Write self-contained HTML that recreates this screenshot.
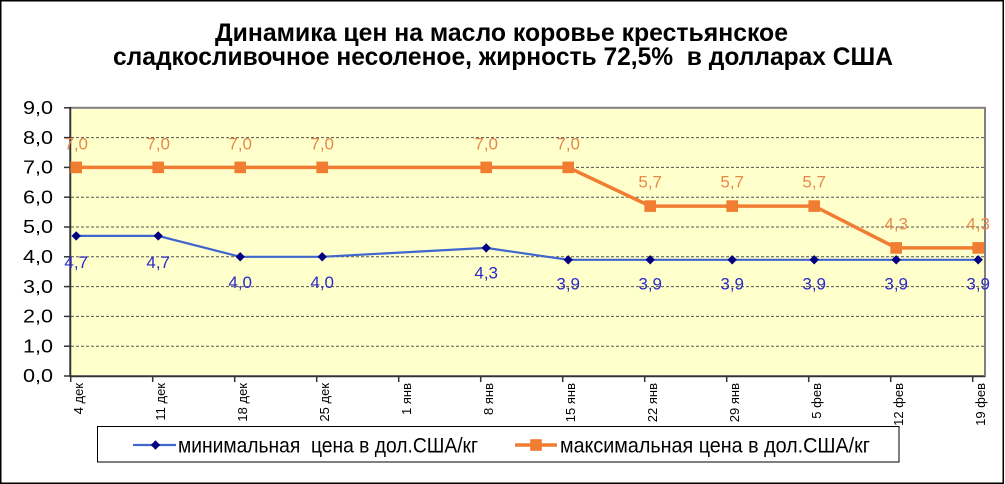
<!DOCTYPE html>
<html><head><meta charset="utf-8"><style>
html,body{margin:0;padding:0;background:#fff;}
svg{display:block;}
text{font-family:"Liberation Sans",Arial,"DejaVu Sans",sans-serif;}
</style></head><body>
<svg width="1005" height="484" viewBox="0 0 1005 484" xmlns="http://www.w3.org/2000/svg">
<rect x="0" y="0" width="1005" height="484" fill="#fff"/>
<rect x="0.75" y="0.75" width="1002.5" height="482.5" fill="none" stroke="#000" stroke-width="1.5"/>
<!-- title -->
<text x="501.5" y="41" text-anchor="middle" font-size="25" font-weight="bold" fill="#000" textLength="573" lengthAdjust="spacingAndGlyphs">Динамика цен на масло коровье крестьянское</text>
<text x="503" y="65" text-anchor="middle" font-size="25" font-weight="bold" fill="#000" textLength="780" lengthAdjust="spacingAndGlyphs" xml:space="preserve">сладкосливочное несоленое, жирность 72,5%  в долларах США</text>
<!-- plot area -->
<rect x="70" y="107.8" width="915" height="268.2" fill="#FFFFCC" stroke="#808080" stroke-width="2"/>
<g stroke="#555" stroke-width="1" stroke-dasharray="3,2">
<line x1="71" y1="137.6" x2="984" y2="137.6"/>
<line x1="71" y1="167.4" x2="984" y2="167.4"/>
<line x1="71" y1="197.2" x2="984" y2="197.2"/>
<line x1="71" y1="227" x2="984" y2="227"/>
<line x1="71" y1="256.8" x2="984" y2="256.8"/>
<line x1="71" y1="286.6" x2="984" y2="286.6"/>
<line x1="71" y1="316.4" x2="984" y2="316.4"/>
<line x1="71" y1="346.2" x2="984" y2="346.2"/>
</g>
<g stroke="#333" stroke-width="1.5">
<line x1="70.5" y1="107" x2="70.5" y2="377"/>
<line x1="70" y1="376.5" x2="985" y2="376.5"/>
<line x1="64" y1="107.8" x2="70" y2="107.8"/>
<line x1="64" y1="137.6" x2="70" y2="137.6"/>
<line x1="64" y1="167.4" x2="70" y2="167.4"/>
<line x1="64" y1="197.2" x2="70" y2="197.2"/>
<line x1="64" y1="227" x2="70" y2="227"/>
<line x1="64" y1="256.8" x2="70" y2="256.8"/>
<line x1="64" y1="286.6" x2="70" y2="286.6"/>
<line x1="64" y1="316.4" x2="70" y2="316.4"/>
<line x1="64" y1="346.2" x2="70" y2="346.2"/>
<line x1="64" y1="376" x2="70" y2="376"/>
<line x1="70.7" y1="376" x2="70.7" y2="382"/>
<line x1="152.7" y1="376" x2="152.7" y2="382"/>
<line x1="234.7" y1="376" x2="234.7" y2="382"/>
<line x1="316.7" y1="376" x2="316.7" y2="382"/>
<line x1="398.7" y1="376" x2="398.7" y2="382"/>
<line x1="480.7" y1="376" x2="480.7" y2="382"/>
<line x1="562.7" y1="376" x2="562.7" y2="382"/>
<line x1="644.7" y1="376" x2="644.7" y2="382"/>
<line x1="726.7" y1="376" x2="726.7" y2="382"/>
<line x1="808.7" y1="376" x2="808.7" y2="382"/>
<line x1="890.7" y1="376" x2="890.7" y2="382"/>
<line x1="972.7" y1="376" x2="972.7" y2="382"/>
</g>
<!-- y labels -->
<g font-size="18" fill="#000" text-anchor="end">
<text x="53" y="114" textLength="30" lengthAdjust="spacingAndGlyphs">9,0</text>
<text x="53" y="143.8" textLength="30" lengthAdjust="spacingAndGlyphs">8,0</text>
<text x="53" y="173.6" textLength="30" lengthAdjust="spacingAndGlyphs">7,0</text>
<text x="53" y="203.4" textLength="30" lengthAdjust="spacingAndGlyphs">6,0</text>
<text x="53" y="233.2" textLength="30" lengthAdjust="spacingAndGlyphs">5,0</text>
<text x="53" y="263" textLength="30" lengthAdjust="spacingAndGlyphs">4,0</text>
<text x="53" y="292.8" textLength="30" lengthAdjust="spacingAndGlyphs">3,0</text>
<text x="53" y="322.6" textLength="30" lengthAdjust="spacingAndGlyphs">2,0</text>
<text x="53" y="352.4" textLength="30" lengthAdjust="spacingAndGlyphs">1,0</text>
<text x="53" y="382.2" textLength="30" lengthAdjust="spacingAndGlyphs">0,0</text>
</g>
<!-- x labels -->
<g font-size="13" fill="#000" text-anchor="end">
<text transform="translate(83.2,383) rotate(-90)">4 дек</text>
<text transform="translate(165.2,383) rotate(-90)">11 дек</text>
<text transform="translate(247.2,383) rotate(-90)">18 дек</text>
<text transform="translate(329.2,383) rotate(-90)">25 дек</text>
<text transform="translate(411.2,383) rotate(-90)">1 янв</text>
<text transform="translate(493.2,383) rotate(-90)">8 янв</text>
<text transform="translate(575.2,383) rotate(-90)">15 янв</text>
<text transform="translate(657.2,383) rotate(-90)">22 янв</text>
<text transform="translate(739.2,383) rotate(-90)">29 янв</text>
<text transform="translate(821.2,383) rotate(-90)">5 фев</text>
<text transform="translate(903.2,383) rotate(-90)">12 фев</text>
<text transform="translate(985.2,383) rotate(-90)">19 фев</text>
</g>
<!-- blue series -->
<polyline fill="none" stroke="#3F66CC" stroke-width="2.2" points="76.2,235.9 158.2,235.9 240.2,256.8 322.2,256.8 486.2,247.9 568.2,259.8 650.2,259.8 732.2,259.8 814.2,259.8 896.2,259.8 978.2,259.8"/>
<g fill="#000080">
<path d="M76.2,231.2 L80.9,235.9 L76.2,240.6 L71.5,235.9Z"/>
<path d="M158.2,231.2 L162.9,235.9 L158.2,240.6 L153.5,235.9Z"/>
<path d="M240.2,252.1 L244.9,256.8 L240.2,261.5 L235.5,256.8Z"/>
<path d="M322.2,252.1 L326.9,256.8 L322.2,261.5 L317.5,256.8Z"/>
<path d="M486.2,243.2 L490.9,247.9 L486.2,252.6 L481.5,247.9Z"/>
<path d="M568.2,255.1 L572.9,259.8 L568.2,264.5 L563.5,259.8Z"/>
<path d="M650.2,255.1 L654.9,259.8 L650.2,264.5 L645.5,259.8Z"/>
<path d="M732.2,255.1 L736.9,259.8 L732.2,264.5 L727.5,259.8Z"/>
<path d="M814.2,255.1 L818.9,259.8 L814.2,264.5 L809.5,259.8Z"/>
<path d="M896.2,255.1 L900.9,259.8 L896.2,264.5 L891.5,259.8Z"/>
<path d="M978.2,255.1 L982.9,259.8 L978.2,264.5 L973.5,259.8Z"/>
</g>
<!-- orange series -->
<polyline fill="none" stroke="#F07D32" stroke-width="3.5" points="76.2,167.4 158.2,167.4 240.2,167.4 322.2,167.4 486.2,167.4 568.2,167.4 650.2,206.1 732.2,206.1 814.2,206.1 896.2,247.9 978.2,247.9"/>
<g fill="#F07D32">
<rect x="70.4" y="161.6" width="11.6" height="11.6"/>
<rect x="152.4" y="161.6" width="11.6" height="11.6"/>
<rect x="234.4" y="161.6" width="11.6" height="11.6"/>
<rect x="316.4" y="161.6" width="11.6" height="11.6"/>
<rect x="480.4" y="161.6" width="11.6" height="11.6"/>
<rect x="562.4" y="161.6" width="11.6" height="11.6"/>
<rect x="644.4" y="200.3" width="11.6" height="11.6"/>
<rect x="726.4" y="200.3" width="11.6" height="11.6"/>
<rect x="808.4" y="200.3" width="11.6" height="11.6"/>
<rect x="890.4" y="242.1" width="11.6" height="11.6"/>
<rect x="972.4" y="242.1" width="11.6" height="11.6"/>
</g>
<!-- orange labels -->
<g font-size="17" fill="#E8894C" text-anchor="middle">
<text x="76.2" y="149.3">7,0</text>
<text x="158.2" y="149.3">7,0</text>
<text x="240.2" y="149.3">7,0</text>
<text x="322.2" y="149.3">7,0</text>
<text x="486.2" y="149.3">7,0</text>
<text x="568.2" y="149.3">7,0</text>
<text x="650.2" y="187.6">5,7</text>
<text x="732.2" y="187.6">5,7</text>
<text x="814.2" y="187.6">5,7</text>
<text x="896.2" y="229.4">4,3</text>
<text x="978.2" y="229.4">4,3</text>
</g>
<!-- blue labels -->
<g font-size="17" fill="#2A2AC8" text-anchor="middle">
<text x="76.2" y="268">4,7</text>
<text x="158.2" y="268">4,7</text>
<text x="240.2" y="287.8">4,0</text>
<text x="322.2" y="287.8">4,0</text>
<text x="486.2" y="278.4">4,3</text>
<text x="568.2" y="289.5">3,9</text>
<text x="650.2" y="289.5">3,9</text>
<text x="732.2" y="289.5">3,9</text>
<text x="814.2" y="289.5">3,9</text>
<text x="896.2" y="289.5">3,9</text>
<text x="978.2" y="289.5">3,9</text>
</g>
<!-- legend -->
<rect x="97.5" y="426.5" width="801.5" height="35.5" fill="#fff" stroke="#000" stroke-width="1"/>
<line x1="133" y1="445" x2="176" y2="445" stroke="#3F66CC" stroke-width="2.2"/>
<path d="M155.5,440.3 L160.2,445 L155.5,449.7 L150.8,445Z" fill="#000080"/>
<text x="178" y="452.7" font-size="21" fill="#000" textLength="300" lengthAdjust="spacingAndGlyphs" xml:space="preserve">минимальная  цена в дол.США/кг</text>
<line x1="515" y1="445" x2="557" y2="445" stroke="#F07D32" stroke-width="3.5"/>
<rect x="530.2" y="439.2" width="11.6" height="11.6" fill="#F07D32"/>
<text x="560" y="452.7" font-size="21" fill="#000" textLength="310" lengthAdjust="spacingAndGlyphs">максимальная цена в дол.США/кг</text>
</svg>
</body></html>
